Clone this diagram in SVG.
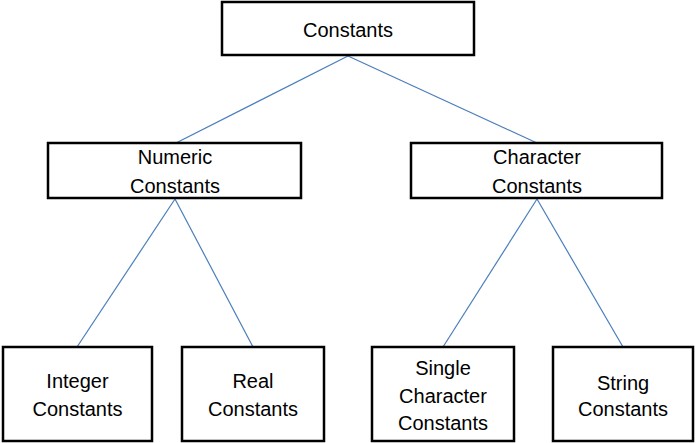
<svg xmlns="http://www.w3.org/2000/svg" width="696" height="443" viewBox="0 0 696 443">
<style>
.box{fill:#fff;stroke:#000;stroke-width:2.5}
.lbl{font-family:"Liberation Sans",Arial,sans-serif;font-size:20px;fill:#000;text-anchor:middle}
.conn{stroke:#4a7ebb;stroke-width:1.2;fill:none}
</style>
<rect width="696" height="443" fill="#fff"/>
<g id="connectors">
<line class="conn" x1="348" y1="56" x2="176" y2="143"/>
<line class="conn" x1="348" y1="56" x2="537" y2="143"/>
<line class="conn" x1="175" y1="199" x2="77" y2="347"/>
<line class="conn" x1="175" y1="199" x2="253" y2="347"/>
<line class="conn" x1="537" y1="199" x2="443" y2="347"/>
<line class="conn" x1="537" y1="199" x2="623" y2="347"/>
</g>
<g id="constants">
<rect class="box" x="222" y="2" width="252" height="53"/>
<text class="lbl" x="348" y="37">Constants</text>
</g>
<g id="numeric">
<rect class="box" x="48" y="143" width="253" height="55"/>
<text class="lbl" x="175" y="164">Numeric</text>
<text class="lbl" x="175" y="193">Constants</text>
</g>
<g id="character">
<rect class="box" x="411" y="143" width="251" height="55"/>
<text class="lbl" x="537" y="164">Character</text>
<text class="lbl" x="537" y="193">Constants</text>
</g>
<g id="integer">
<rect class="box" x="3" y="347" width="149" height="94"/>
<text class="lbl" x="77.5" y="388">Integer</text>
<text class="lbl" x="77.5" y="416">Constants</text>
</g>
<g id="real">
<rect class="box" x="182" y="347" width="142" height="94"/>
<text class="lbl" x="253" y="388">Real</text>
<text class="lbl" x="253" y="416">Constants</text>
</g>
<g id="single">
<rect class="box" x="372" y="347" width="142" height="94"/>
<text class="lbl" x="443" y="375">Single</text>
<text class="lbl" x="443" y="403">Character</text>
<text class="lbl" x="443" y="430">Constants</text>
</g>
<g id="string">
<rect class="box" x="553" y="347" width="140" height="94"/>
<text class="lbl" x="623" y="390">String</text>
<text class="lbl" x="623" y="416">Constants</text>
</g>
</svg>
